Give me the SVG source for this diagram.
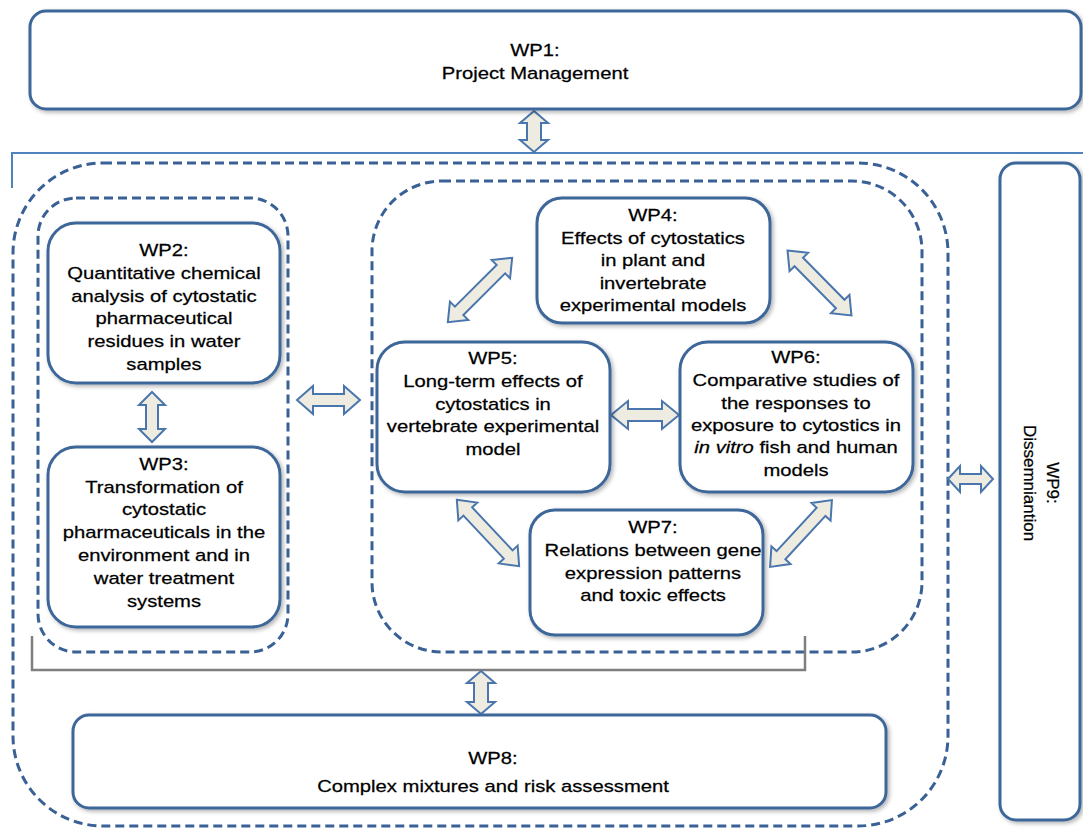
<svg xmlns="http://www.w3.org/2000/svg" width="1083" height="830" viewBox="0 0 1083 830">
<style>
.box{fill:#fff;stroke:#3D6699;stroke-width:3;filter:url(#sh)}
.dash{fill:none;stroke:#3A6195;stroke-width:3;stroke-dasharray:9 5}
.arr{fill:#EEECE1;stroke:#4A76AD;stroke-width:2;stroke-linejoin:miter}
.t{font-family:"Liberation Sans",Arial,sans-serif;font-size:17px;fill:#000;text-anchor:middle;stroke:#000;stroke-width:0.25}
</style>
<defs>
<filter id="sh" x="-10%" y="-10%" width="120%" height="130%">
<feDropShadow dx="2" dy="2" stdDeviation="2" flood-color="#000" flood-opacity="0.3"/>
</filter>
<polygon id="diag" points="-45.5,0 -29.5,-13 -29.5,-6 29.5,-6 29.5,-13 45.5,0 29.5,13 29.5,6 -29.5,6 -29.5,13"/>
</defs>
<rect width="1083" height="830" fill="#fff"/>

<g id="frames">
<path d="M12,188 V153 H1083" fill="none" stroke="#4F81BD" stroke-width="2"/>
<rect class="dash" x="13" y="163" width="935" height="663" rx="90"/>
<rect class="dash" x="38" y="198" width="250" height="454" rx="38"/>
<rect class="dash" x="372" y="181" width="550" height="471" rx="70"/>
<path d="M32,636 V670 H805 V636" fill="none" stroke="#7F7F7F" stroke-width="2.5"/>
</g>

<g id="connectors">
<polygon class="arr" transform="translate(534,131.5) rotate(90)" points="-20.5,0 -8.5,-14 -8.5,-7 8.5,-7 8.5,-14 20.5,0 8.5,14 8.5,7 -8.5,7 -8.5,14"/>
<polygon class="arr" transform="translate(152,417) rotate(90)" points="-25,0 -12,-13 -12,-6 12,-6 12,-13 25,0 12,13 12,6 -12,6 -12,13"/>
<polygon class="arr" transform="translate(328.5,400)" points="-31.5,0 -15.5,-14 -15.5,-6 15.5,-6 15.5,-14 31.5,0 15.5,14 15.5,6 -15.5,6 -15.5,14"/>
<polygon class="arr" transform="translate(645,415)" points="-34,0 -17,-14 -17,-6 17,-6 17,-14 34,0 17,14 17,6 -17,6 -17,14"/>
<use href="#diag" class="arr" transform="translate(480,290) rotate(-45)"/>
<use href="#diag" class="arr" transform="translate(819.5,283) rotate(45.4)"/>
<use href="#diag" class="arr" transform="translate(488,533) rotate(46.8)"/>
<use href="#diag" class="arr" transform="translate(801,533.5) rotate(-47.2)"/>
<polygon class="arr" transform="translate(481,692.5) rotate(90)" points="-21.5,0 -9.5,-14 -9.5,-7 9.5,-7 9.5,-14 21.5,0 9.5,14 9.5,7 -9.5,7 -9.5,14"/>
<polygon class="arr" transform="translate(970.5,479)" points="-22.5,0 -10.5,-13 -10.5,-5 10.5,-5 10.5,-13 22.5,0 10.5,13 10.5,5 -10.5,5 -10.5,13"/>
</g>

<g id="wp1">
<rect class="box" x="30" y="11" width="1051" height="98" rx="16"/>
<g transform="translate(535 0) scale(1.19 1)"><text class="t"><tspan x="0" y="56">WP1:</tspan><tspan x="0" y="79">Project Management</tspan></text></g>
</g>

<g id="wp2">
<rect class="box" x="48" y="223" width="232" height="160" rx="28"/>
<g transform="translate(164 0) scale(1.19 1)"><text class="t"><tspan x="0" y="256">WP2:</tspan><tspan x="0" y="279">Quantitative chemical</tspan><tspan x="0" y="302">analysis of cytostatic</tspan><tspan x="0" y="324">pharmaceutical</tspan><tspan x="0" y="347">residues in water</tspan><tspan x="0" y="370">samples</tspan></text></g>
</g>

<g id="wp3">
<rect class="box" x="48" y="447" width="232" height="180" rx="28"/>
<g transform="translate(164 0) scale(1.19 1)"><text class="t"><tspan x="0" y="470">WP3:</tspan><tspan x="0" y="493">Transformation of</tspan><tspan x="0" y="515.5">cytostatic</tspan><tspan x="0" y="538">pharmaceuticals in the</tspan><tspan x="0" y="561">environment and in</tspan><tspan x="0" y="584">water treatment</tspan><tspan x="0" y="607">systems</tspan></text></g>
</g>

<g id="wp4">
<rect class="box" x="537" y="198" width="233" height="125" rx="25"/>
<g transform="translate(653 0) scale(1.19 1)"><text class="t"><tspan x="0" y="221">WP4:</tspan><tspan x="0" y="244">Effects of cytostatics</tspan><tspan x="0" y="266">in plant and</tspan><tspan x="0" y="289">invertebrate</tspan><tspan x="0" y="311">experimental models</tspan></text></g>
</g>

<g id="wp5">
<rect class="box" x="377" y="342" width="233" height="150" rx="28"/>
<g transform="translate(493 0) scale(1.19 1)"><text class="t"><tspan x="0" y="364">WP5:</tspan><tspan x="0" y="387">Long-term effects of</tspan><tspan x="0" y="410">cytostatics in</tspan><tspan x="0" y="432">vertebrate experimental</tspan><tspan x="0" y="455">model</tspan></text></g>
</g>

<g id="wp6">
<rect class="box" x="680" y="342" width="233" height="150" rx="28"/>
<g transform="translate(796 0) scale(1.19 1)"><text class="t"><tspan x="0" y="363">WP6:</tspan><tspan x="0" y="386">Comparative studies of</tspan><tspan x="0" y="409">the responses to</tspan><tspan x="0" y="431">exposure to cytostics in</tspan><tspan x="0" y="453"><tspan font-style="italic">in vitro</tspan> fish and human</tspan><tspan x="0" y="476">models</tspan></text></g>
</g>

<g id="wp7">
<rect class="box" x="530" y="510" width="233" height="125" rx="25"/>
<g transform="translate(653 0) scale(1.19 1)"><text class="t"><tspan x="0" y="533">WP7:</tspan><tspan x="0" y="556">Relations between gene</tspan><tspan x="0" y="579">expression patterns</tspan><tspan x="0" y="601">and toxic effects</tspan></text></g>
</g>

<g id="wp8">
<rect class="box" x="73" y="715" width="813" height="93" rx="16"/>
<g transform="translate(493 0) scale(1.19 1)"><text class="t"><tspan x="0" y="764">WP8:</tspan><tspan x="0" y="792">Complex mixtures and risk assessment</tspan></text></g>
</g>

<g id="wp9">
<rect class="box" x="1000" y="163" width="80" height="657" rx="16"/>
<text class="t" transform="translate(1041,483) rotate(90)"><tspan x="0" y="-6">WP9:</tspan><tspan x="0" y="17">Dissemniantion</tspan></text>
</g>
</svg>
